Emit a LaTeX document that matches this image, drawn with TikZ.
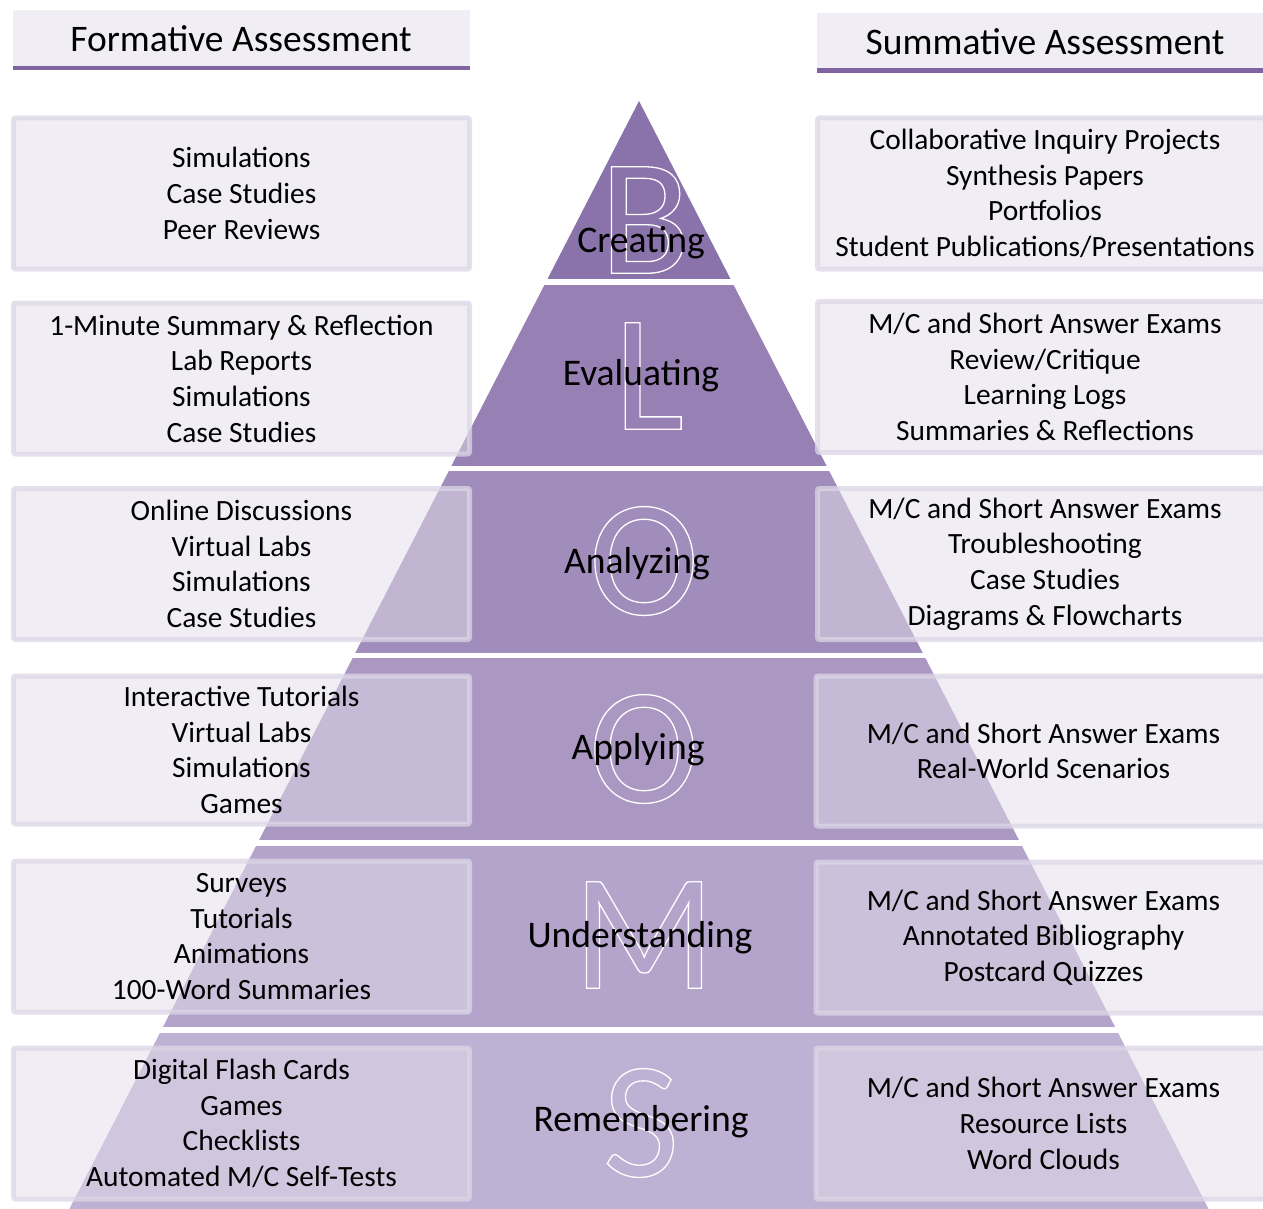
\documentclass[tikz,border=0pt]{standalone}
\usepackage{fontspec}
\setmainfont{Carlito}
\definecolor{bandA}{HTML}{8A73AA}
\definecolor{bandB}{HTML}{9680B4}
\definecolor{bandC}{HTML}{A08DBC}
\definecolor{bandD}{HTML}{AA98C3}
\definecolor{bandE}{HTML}{B4A4CB}
\definecolor{bandF}{HTML}{BEB1D4}
\definecolor{boxfill}{HTML}{E2DEE9}
\definecolor{boxline}{HTML}{DCD6E6}
\definecolor{hdrfill}{HTML}{F0EEF4}
\definecolor{hdrline}{HTML}{8064A2}
\newcommand\outl[1]{\special{pdf:literal direct 1 Tr 1.3 w}#1\special{pdf:literal direct 0 Tr}}
\begin{document}
\begin{tikzpicture}[x=1pt,y=-1pt,
  abox/.style={draw=boxline, draw opacity=0.75, line width=5pt, fill=boxfill,
    fill opacity=0.5, text opacity=1, rounded corners=2pt, minimum height=151pt,
    align=center, font=\fontsize{29.4}{35.7}\selectfont, inner sep=0pt},
  lbox/.style={abox, minimum width=456pt},
  rbox/.style={abox, minimum width=455pt},
  lvl/.style={font=\fontsize{37.6}{40}\selectfont, inner sep=0pt, anchor=base},
  bigletter/.style={text=white, font=\fontsize{166}{166}\selectfont, inner sep=0pt},
  hdrtext/.style={font=\fontsize{37.5}{40}\selectfont, inner sep=0pt, anchor=base}
]
\useasboundingbox (0,0) rectangle (1263,1209);
% headers
\fill[hdrfill] (13,10) rectangle (470,66);
\draw[hdrline, line width=4.5pt] (13,68) -- (470,68);
\fill[hdrfill] (817,13) rectangle (1275,68);
\draw[hdrline, line width=4.5pt] (817,70.5) -- (1275,70.5);
\node[hdrtext] (hf) at (241,52) {Formative Assessment};
\node[hdrtext] (hs) at (1045,55) {Summative Assessment};
% pyramid
\begin{scope}
\clip (639,101) -- (1208.6,1209) -- (69.4,1209) -- cycle;
\fill[bandA] (0,90) rectangle (1263,279);
\fill[bandB] (0,285) rectangle (1263,466);
\fill[bandC] (0,471) rectangle (1263,653);
\fill[bandD] (0,658) rectangle (1263,840);
\fill[bandE] (0,846) rectangle (1263,1027);
\fill[bandF] (0,1033) rectangle (1263,1215);
\end{scope}
% big letters
\node[bigletter] (lB) at (645,220) {\outl{B}};
\node[bigletter] (lL) at (649,376) {\outl{L}};
\node[bigletter] (lO1) at (644,561) {\outl{O}};
\node[bigletter] (lO2) at (644,749) {\outl{O}};
\node[bigletter] (lM) at (644,935) {\outl{M}};
\node[bigletter] (lS) at (641,1123) {\outl{S}};
% level labels
\node[lvl] (cr) at (641,252) {Creating};
\node[lvl] (ev) at (641,385) {Evaluating};
\node[lvl] (an) at (637,573) {Analyzing};
\node[lvl] (ap) at (638,759) {Applying};
\node[lvl] (un) at (640,947) {Understanding};
\node[lvl] (re) at (641,1131) {Remembering};
% left boxes
\node[lbox] (f1) at (241.5,193.5) {Simulations\\Case Studies\\Peer Reviews};
\node[lbox] (f2) at (241.5,378.5) {1-Minute Summary \& Reflection\\Lab Reports\\Simulations\\Case Studies};
\node[lbox] (f3) at (241.5,564) {Online Discussions\\Virtual Labs\\Simulations\\Case Studies};
\node[lbox, minimum height=148pt] (f4) at (241.5,750) {Interactive Tutorials\\Virtual Labs\\Simulations\\Games};
\node[lbox] (f5) at (241.5,936.5) {Surveys\\Tutorials\\Animations\\100-Word Summaries};
\node[lbox] (f6) at (241.5,1123.5) {Digital Flash Cards\\Games\\Checklists\\Automated M/C Self-Tests};
% right boxes
\node[rbox] (s1) at (1045,193.5) {Collaborative Inquiry Projects\\Synthesis Papers\\Portfolios\\Student Publications/Presentations};
\node[rbox] (s2) at (1045,377) {M/C and Short Answer Exams\\Review/Critique\\Learning Logs\\Summaries \& Reflections};
\node[rbox] (s3) at (1045,564) {M/C and Short Answer Exams\\Troubleshooting\\Case Studies\\Diagrams \& Flowcharts};
\node[rbox, minimum height=150pt] (s4) at (1043.5,751) {M/C and Short Answer Exams\\Real-World Scenarios};
\node[rbox] (s5) at (1043.5,937.5) {M/C and Short Answer Exams\\Annotated Bibliography\\Postcard Quizzes};
\node[rbox] (s6) at (1043.5,1123.5) {M/C and Short Answer Exams\\Resource Lists\\Word Clouds};
\end{tikzpicture}
\end{document}
